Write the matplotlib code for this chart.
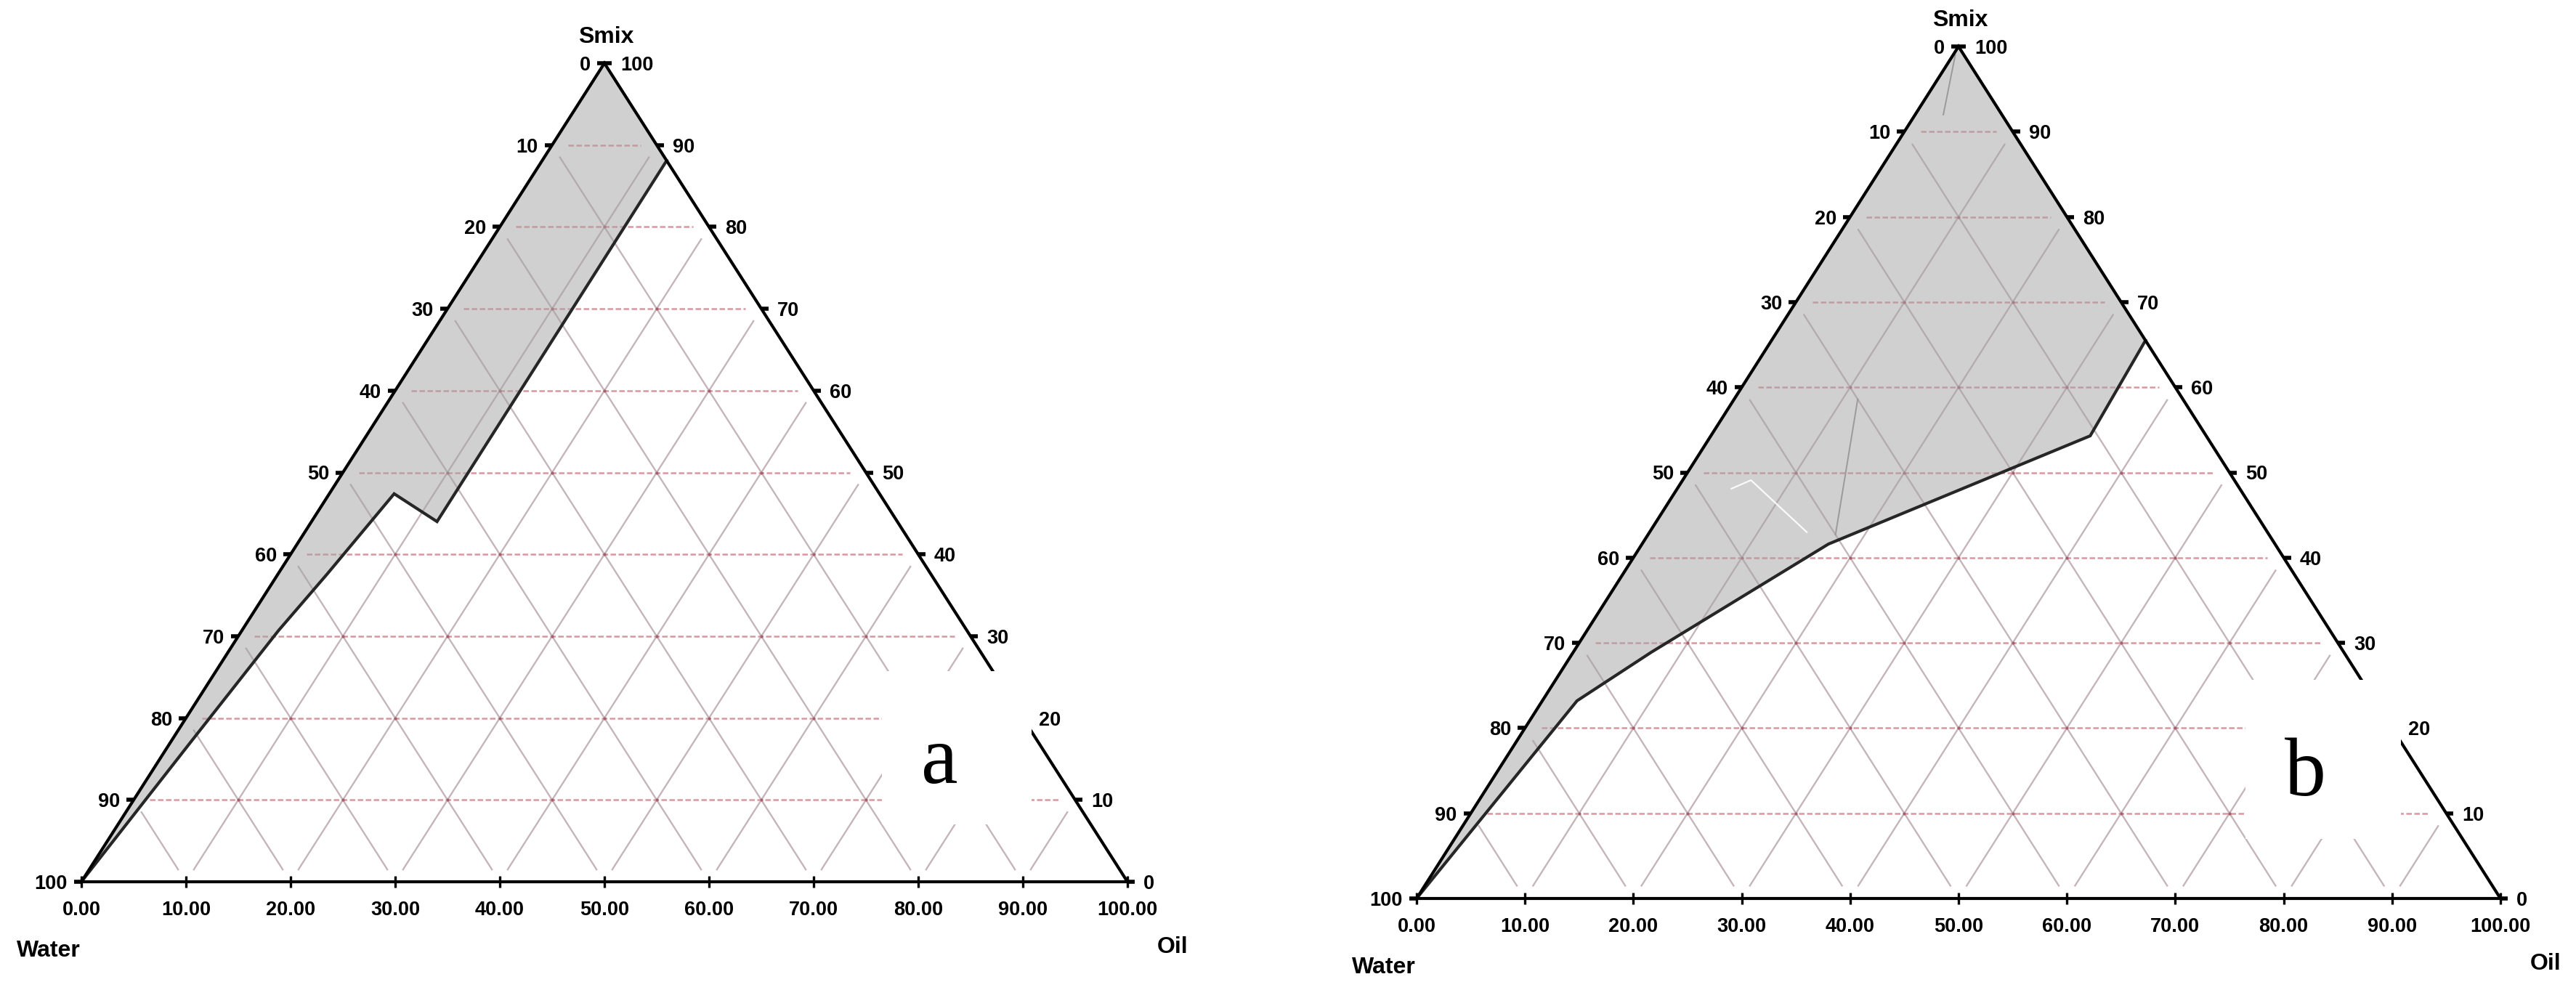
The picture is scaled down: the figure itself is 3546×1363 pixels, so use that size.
import matplotlib
matplotlib.use("Agg")
import matplotlib.pyplot as plt
from matplotlib.patches import Polygon, Rectangle
import numpy as np

plt.rcParams["font.family"] = ["Liberation Sans", "DejaVu Sans"]

# ternary values are given as (oil %, smix %); water = 100 - oil - smix
grid_steps = [10, 20, 30, 40, 50, 60, 70, 80, 90]
axis_steps = [0, 10, 20, 30, 40, 50, 60, 70, 80, 90, 100]
bottom_labels = ["0.00", "10.00", "20.00", "30.00", "40.00", "50.00",
                 "60.00", "70.00", "80.00", "90.00", "100.00"]
left_labels = ["0", "10", "20", "30", "40", "50", "60", "70", "80", "90", "100"]
right_labels = ["0", "10", "20", "30", "40", "50", "60", "70", "80", "90", "100"]
vertex_names = ["Water", "Oil", "Smix"]

# panel a: microemulsion region (outline)
a_oil = [0, 0, 11.9, 12.0, 6.2, 4.7, 3.5, 1.9, 0]
a_smix = [0, 100, 88.1, 44.0, 47.4, 37.6, 30.7, 16.9, 0]

# panel b
b_oil = [0, 0, 34.5, 35.0, 17.2, 7.2, 3.2, 2.3, 0]
b_smix = [0, 100, 65.5, 54.3, 41.6, 28.9, 23.2, 16.7, 0]
# faint seams inside the shaded region of b
b_seam_grey_oil = [[0.2, 2.6], [17.3, 11.4]]
b_seam_grey_smix = [[99.0, 92.0], [42.7, 58.6]]
b_seam_white_oil = [5.0, 6.3, 14.5]
b_seam_white_smix = [48.1, 49.1, 43.0]

panel_letters = ["a", "b"]

W, H = 3546, 1363
fig = plt.figure(figsize=(W / 100, H / 100), dpi=100)


def to_xy(oil, smix):
    oil = np.asarray(oil, dtype=float)
    smix = np.asarray(smix, dtype=float)
    return oil + smix / 2, smix


def draw_panel(ax, oil, smix, letter):
    ax.set_xlim(0, 100)
    ax.set_ylim(0, 100)
    ax.set_axis_off()

    # grid
    trim = 1.5
    for v in grid_steps:
        # constant smix (horizontal)
        x0, y0 = to_xy(0, v)
        x1, y1 = to_xy(100 - v, v)
        ax.plot([x0 + trim, x1 - trim], [y0, y1], color="#d9979f", lw=1.8,
                ls=(0, (3, 1.4)), zorder=1)
        # constant oil
        xs, ys = to_xy([v, v], [trim, 100 - v - trim])
        ax.plot(xs, ys, color="#c5b5ba", lw=1.7, zorder=1)
        # constant water
        xs, ys = to_xy([100 - v - trim, trim], [trim, 100 - v - trim])
        ax.plot(xs, ys, color="#c5b5ba", lw=1.7, zorder=1)
    for s in grid_steps:
        for o in grid_steps:
            if o + s <= 90:
                x, y = to_xy(o, s)
                ax.plot(x, y, "o", ms=3, color="#a85f6d", mec="none", zorder=1.5)

    # shaded region
    xs, ys = to_xy(oil, smix)
    ax.add_patch(Polygon(np.column_stack([xs, ys]), closed=True,
                         facecolor="#a3a3a3", alpha=0.5, edgecolor="none", zorder=2))
    ax.plot(xs[2:], ys[2:], color="#262626", lw=3.0, zorder=3,
            solid_joinstyle="miter")

    # triangle edges
    ex, ey = to_xy([0, 100, 0, 0], [0, 0, 100, 0])
    ax.plot(ex, ey, color="black", lw=3.0, zorder=4, clip_on=False,
            solid_joinstyle="miter")

    fs = 19.5
    for i, v in enumerate(axis_steps):
        # bottom axis (oil)
        bx, by = to_xy(v, 0)
        ax.plot(bx, by, marker="|", ms=12, mew=2.4, color="black", zorder=4, clip_on=False)
        ax.annotate(bottom_labels[i], (bx, by), xytext=(0, -39), textcoords="offset pixels",
                    ha="center", va="center", fontsize=fs, fontweight="bold", zorder=6)
        # left axis (water)
        lx, ly = to_xy(0, 100 - v)
        ax.plot(lx, ly, marker=0, ms=7, mew=4, color="black", zorder=4, clip_on=False)
        ax.annotate(left_labels[i], (lx, ly), xytext=(-19, -3), textcoords="offset pixels",
                    ha="right", va="center", fontsize=fs, fontweight="bold", zorder=6)
        # right axis (smix)
        rx, ry = to_xy(100 - v, v)
        ax.plot(rx, ry, marker=1, ms=7, mew=4, color="black", zorder=4, clip_on=False)
        ax.annotate(right_labels[i], (rx, ry), xytext=(22, -3), textcoords="offset pixels",
                    ha="left", va="center", fontsize=fs, fontweight="bold", zorder=6)

    tfs = 23
    wx, wy = to_xy(0, 0)
    ax.annotate(vertex_names[0], (wx, wy), xytext=(-45, -95), textcoords="offset pixels",
                ha="center", va="center", fontsize=tfs, fontweight="bold")
    ox, oy = to_xy(100, 0)
    ax.annotate(vertex_names[1], (ox, oy), xytext=(62, -90), textcoords="offset pixels",
                ha="center", va="center", fontsize=tfs, fontweight="bold")
    sx, sy = to_xy(0, 100)
    ax.annotate(vertex_names[2], (sx, sy), xytext=(2, 36), textcoords="offset pixels",
                ha="center", va="center", fontsize=tfs, fontweight="bold")

    # panel letter in a white box
    ax.add_patch(Rectangle((0.765, 0.07), 0.143, 0.187, transform=ax.transAxes,
                           facecolor="white", edgecolor="none", zorder=5, clip_on=False))
    ax.text(0.82, 0.145, letter, transform=ax.transAxes, ha="center", va="center",
            fontsize=82, family="Liberation Serif", zorder=6)


# axes placed on the triangle bounding boxes (pixels: left, bottom, width, height)
boxes = [(112, 149, 1440, 1127), (1950, 126, 1492, 1173)]
axes = [fig.add_axes([l / W, b / H, w / W, h / H]) for l, b, w, h in boxes]

draw_panel(axes[0], a_oil, a_smix, panel_letters[0])
draw_panel(axes[1], b_oil, b_smix, panel_letters[1])

for so, ss in zip(b_seam_grey_oil, b_seam_grey_smix):
    x, y = to_xy(so, ss)
    axes[1].plot(x, y, color="#9a9a9a", lw=1.4, zorder=2.5)
x, y = to_xy(b_seam_white_oil, b_seam_white_smix)
axes[1].plot(x, y, color="white", lw=1.6, alpha=0.9, zorder=2.5)

fig.savefig("out.png", dpi=100, facecolor="white")
